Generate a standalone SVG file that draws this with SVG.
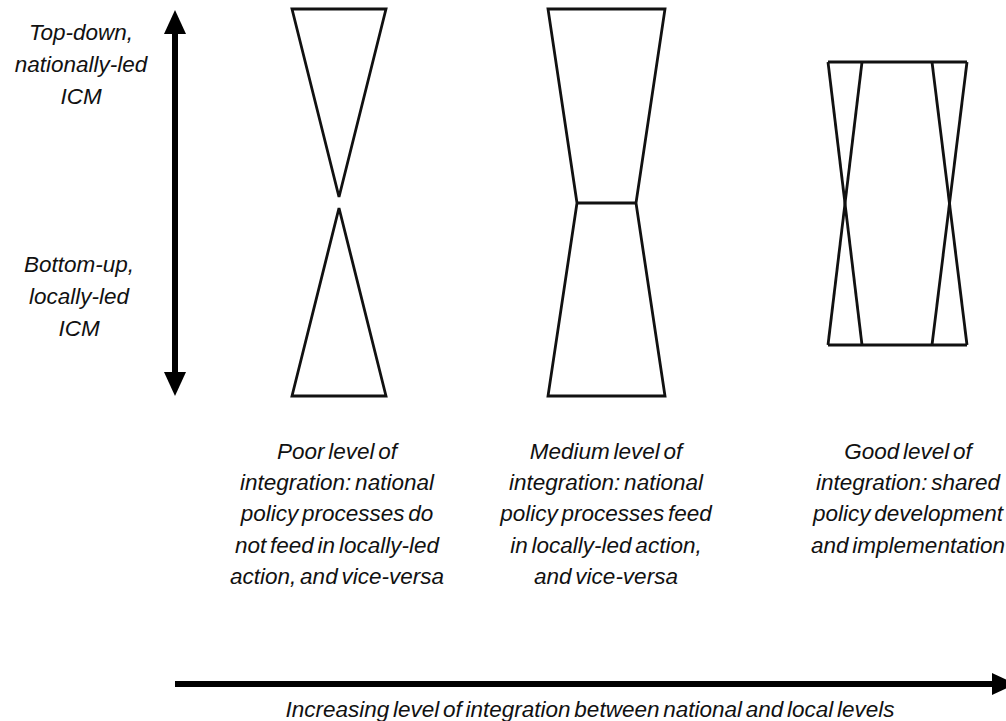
<svg xmlns="http://www.w3.org/2000/svg" width="1006" height="721" viewBox="0 0 1006 721">
<style>
.t{font-family:"Liberation Sans",Arial,sans-serif;font-style:italic;font-size:22.5px;fill:#111;text-anchor:middle;word-spacing:-2.5px}
.s{fill:none;stroke:#111;stroke-width:2.8;stroke-linejoin:miter}
</style>
<defs>
<marker id="ah" viewBox="0 0 24 22" refX="0" refY="11" markerWidth="24" markerHeight="22" markerUnits="userSpaceOnUse" orient="auto">
<path d="M0,0 L24,11 L0,22 Z" fill="#000"/>
</marker>
</defs>
<rect width="1006" height="721" fill="#fff"/>
<g id="connectors">
<line x1="175" y1="200" x2="175" y2="34" stroke="#000" stroke-width="6" marker-end="url(#ah)"/>
<line x1="175" y1="200" x2="175" y2="372" stroke="#000" stroke-width="6" marker-end="url(#ah)"/>
<line x1="175" y1="684" x2="992" y2="684" stroke="#000" stroke-width="6" marker-end="url(#ah)"/>
</g>
<g id="label-top">
<text class="t" x="81" y="40">Top-down,</text>
<text class="t" x="81" y="72">nationally-led</text>
<text class="t" x="81" y="104">ICM</text>
</g>
<g id="label-bottom">
<text class="t" x="79" y="272">Bottom-up,</text>
<text class="t" x="79" y="304">locally-led</text>
<text class="t" x="79" y="336">ICM</text>
</g>
<g id="shape-poor">
<path class="s" d="M292,9 L386,9 L339,197 Z"/>
<path class="s" d="M292,396 L386,396 L339,208 Z"/>
</g>
<g id="shape-medium">
<path class="s" d="M548,9 L665,9 L636,203 L665,396 L548,396 L577,203 Z"/>
<line class="s" x1="577" y1="203" x2="636" y2="203"/>
</g>
<g id="shape-good">
<line class="s" x1="828" y1="62" x2="967" y2="62"/>
<line class="s" x1="828" y1="345" x2="967" y2="345"/>
<line class="s" x1="828" y1="62" x2="862" y2="345"/>
<line class="s" x1="862" y1="62" x2="828" y2="345"/>
<line class="s" x1="932" y1="62" x2="967" y2="345"/>
<line class="s" x1="967" y1="62" x2="932" y2="345"/>
</g>
<g id="text-poor">
<text class="t" x="337" y="459">Poor level of</text>
<text class="t" x="337" y="490">integration: national</text>
<text class="t" x="337" y="521">policy processes do</text>
<text class="t" x="337" y="553">not feed in locally-led</text>
<text class="t" x="337" y="584">action, and vice-versa</text>
</g>
<g id="text-medium">
<text class="t" x="606" y="459">Medium level of</text>
<text class="t" x="606" y="490">integration: national</text>
<text class="t" x="606" y="521">policy processes feed</text>
<text class="t" x="606" y="553">in locally-led action,</text>
<text class="t" x="606" y="584">and vice-versa</text>
</g>
<g id="text-good">
<text class="t" x="908" y="459">Good level of</text>
<text class="t" x="908" y="490">integration: shared</text>
<text class="t" x="908" y="521">policy development</text>
<text class="t" x="908" y="553">and implementation</text>
</g>
<g id="text-axis">
<text class="t" x="590" y="717">Increasing level of integration between national and local levels</text>
</g>
</svg>
